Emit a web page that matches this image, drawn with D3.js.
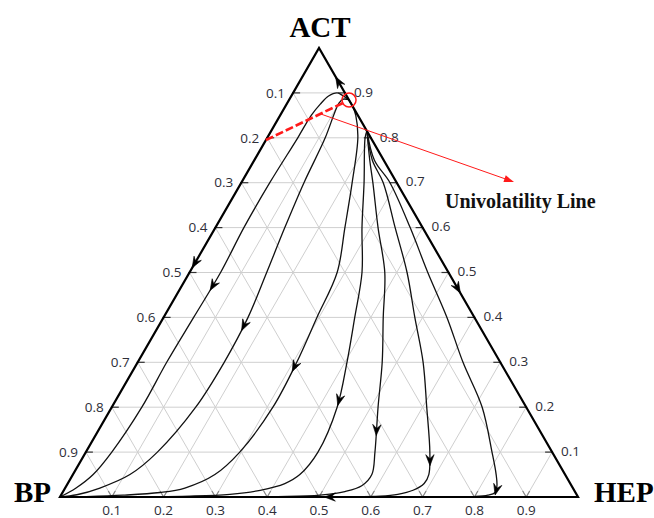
<!DOCTYPE html>
<html>
<head>
<meta charset="utf-8">
<script src="https://cdn.jsdelivr.net/npm/d3@7"></script>
<style>
  html, body { margin: 0; padding: 0; background: #fff; }
  svg { display: block; }
</style>
</head>
<body>
<svg id="chart" width="654" height="518"></svg>
<script>
// Ternary diagram of BP / HEP / ACT with residue curves.
// Compositions are written as [HEP fraction, ACT fraction]; BP = 1 - HEP - ACT.

const gridLevels = [0.1, 0.2, 0.3, 0.4, 0.5, 0.6, 0.7, 0.8, 0.9];
const tickLabels = ["0.1", "0.2", "0.3", "0.4", "0.5", "0.6", "0.7", "0.8", "0.9"];
const vertexNames = { left: "BP", right: "HEP", top: "ACT" };

// binary azeotrope on the ACT-HEP edge and the univolatility point
const azeotrope = [0.185, 0.815];
const univolatilityPoint = [0.116, 0.884];
const univolatilityStart = [0.0, 0.795];
const annotationText = "Univolatility Line";
const annotationFrom = [0.077, 0.853];
const annotationTo = [0.5257, 0.7016];

// residue curves
const curve1 = [[0.115,0.885],[0.097,0.895],[0.085,0.9],[0.072,0.893],[0.065,0.875],[0.06,0.85],[0.059,0.8],[0.055,0.7],[0.055,0.6],[0.06,0.5],[0.058,0.4],[0.056,0.3],[0.058,0.2],[0.05,0.1],[0.039,0.05],[0.021,0.02],[0,0]];
const curve2 = [[0.115,0.885],[0.104,0.886],[0.1,0.877],[0.102,0.857],[0.112,0.8],[0.121,0.7],[0.134,0.6],[0.149,0.5],[0.163,0.4],[0.167,0.3],[0.162,0.2],[0.138,0.1],[0.11,0.05],[0.067,0.02],[0.03,0.005],[0,0]];
const curve3 = [[0.115,0.885],[0.13,0.87],[0.146,0.85],[0.175,0.8],[0.214,0.7],[0.25,0.6],[0.285,0.5],[0.296,0.4],[0.307,0.3],[0.311,0.2],[0.297,0.1],[0.274,0.05],[0.231,0.02],[0.188,0.01],[0.12,0.004],[0.05,0.001],[0,0]];
const curve4 = [[0.185,0.815],[0.189,0.8],[0.237,0.7],[0.283,0.6],[0.333,0.5],[0.369,0.4],[0.404,0.3],[0.435,0.2],[0.448,0.1],[0.438,0.05],[0.419,0.03],[0.379,0.015],[0.325,0.006],[0.25,0.002],[0.15,0.0005],[0,0]];
const curve5 = [[0.185,0.815],[0.223,0.75],[0.254,0.7],[0.314,0.6],[0.377,0.5],[0.424,0.4],[0.472,0.3],[0.514,0.2],[0.558,0.1],[0.577,0.05],[0.57,0.025],[0.544,0.012],[0.5,0.004],[0.42,0.001],[0.3,0.0002],[0,0]];
const curve6 = [[0.185,0.815],[0.228,0.75],[0.274,0.7],[0.347,0.6],[0.42,0.5],[0.485,0.4],[0.551,0.3],[0.608,0.2],[0.664,0.1],[0.687,0.05],[0.688,0.03],[0.674,0.015],[0.649,0.006],[0.617,0.002],[0.55,0.0005],[0,0]];
const curve7 = [[0.185,0.815],[0.232,0.75],[0.287,0.7],[0.376,0.6],[0.46,0.5],[0.547,0.4],[0.628,0.3],[0.715,0.2],[0.784,0.1],[0.817,0.05],[0.831,0.025],[0.835,0.01],[0.824,0.004],[0.8,0.001],[0.7,0.0002],[0,0]];
const residueCurves = [curve1, curve2, curve3, curve4, curve5, curve6, curve7];

// where the direction arrow sits on each residue curve
const curveArrowAt = [[0.065,0.468],[0.168,0.38],[0.309,0.29],[0.429,0.216],[0.537,0.149],[0.673,0.082],[0.838,0.0156]];

// direction arrows on the triangle edges: position and the vertex they point to
const edgeArrows = [
  { at: [0.0, 0.521], toward: [0, 0] },   // ACT -> BP
  { at: [0.075, 0.925], toward: [0, 1] }, // azeotrope -> ACT
  { at: [0.535, 0.465], toward: [1, 0] }, // azeotrope -> HEP
  { at: [0.521, 0.0], toward: [0, 0] }    // HEP -> BP
];

const svg = d3.select("#chart");
const xs = d3.scaleLinear().domain([0, 1]).range([60, 578]);
const ys = d3.scaleLinear().domain([0, 1]).range([497, 48]);
const pt = ([h, a]) => [xs(h + a / 2), ys(a)];

// grid
const grid = svg.append("g").attr("stroke", "#cfcfcf").attr("stroke-width", 1).attr("fill", "none");
gridLevels.forEach(v => {
  const segs = [
    [[0, v], [1 - v, v]],         // constant ACT
    [[v, 0], [v, 1 - v]],         // constant HEP
    [[1 - v, 0], [0, 1 - v]]      // constant BP
  ];
  segs.forEach(s => {
    const p0 = pt(s[0]), p1 = pt(s[1]);
    grid.append("line").attr("x1", p0[0]).attr("y1", p0[1]).attr("x2", p1[0]).attr("y2", p1[1]);
  });
});

// ticks
const tk = svg.append("g").attr("stroke", "#333").attr("stroke-width", 1.2);
gridLevels.forEach(v => {
  const l = pt([0, 1 - v]);
  tk.append("line").attr("x1", l[0] - 1).attr("y1", l[1]).attr("x2", l[0] + 7).attr("y2", l[1]);
  const r = pt([1 - v, v]);
  tk.append("line").attr("x1", r[0] + 1).attr("y1", r[1]).attr("x2", r[0] - 7).attr("y2", r[1]);
  const b = pt([v, 0]);
  const c = Math.cos(Math.PI / 3) * 7, s = Math.sin(Math.PI / 3) * 7;
  tk.append("line").attr("stroke", "#888").attr("x1", b[0]).attr("y1", b[1]).attr("x2", b[0] - c).attr("y2", b[1] - s);
  tk.append("line").attr("stroke", "#888").attr("x1", b[0]).attr("y1", b[1]).attr("x2", b[0] + c).attr("y2", b[1] - s);
});

// tick labels
const lab = svg.append("g").attr("font-family", "'Open Sans', 'Liberation Sans', sans-serif")
  .attr("font-size", 13.5).attr("fill", "#2e2e38");
gridLevels.forEach((v, i) => {
  const l = pt([0, 1 - v]);
  lab.append("text").attr("x", l[0] - 8).attr("y", l[1]).attr("dy", "0.35em")
    .attr("text-anchor", "end").text(tickLabels[i]);
  const r = pt([1 - v, v]);
  lab.append("text").attr("x", r[0] + 9).attr("y", r[1] - 1).attr("dy", "0.35em")
    .attr("text-anchor", "start").text(tickLabels[i]);
  const b = pt([v, 0]);
  lab.append("text").attr("x", b[0]).attr("y", 515)
    .attr("text-anchor", "middle").text(tickLabels[i]);
});

// residue curves
const line = d3.line().x(d => pt(d)[0]).y(d => pt(d)[1]).curve(d3.curveCatmullRom.alpha(0.5));
const curveG = svg.append("g").attr("fill", "none").attr("stroke", "#111").attr("stroke-width", 1.3);
const paths = residueCurves.map(c => curveG.append("path").attr("d", line(c)).node());

// triangle
const tri = [pt([0, 0]), pt([1, 0]), pt([0, 1])];
svg.append("path").attr("d", "M" + tri.map(p => p.join(",")).join("L") + "Z")
  .attr("fill", "none").attr("stroke", "#000").attr("stroke-width", 2.2).attr("stroke-linejoin", "miter");

// arrowheads, centred on the given point
function arrowHead(x, y, angle) {
  svg.append("path")
    .attr("d", "M5.5,0 L-5.5,-4.2 L-1.5,0 L-5.5,4.2 Z")
    .attr("transform", `translate(${x},${y}) rotate(${angle * 180 / Math.PI})`)
    .attr("fill", "#000").attr("stroke", "#000").attr("stroke-width", 0.6).attr("stroke-linejoin", "miter");
}
paths.forEach((p, i) => {
  const target = pt(curveArrowAt[i]);
  const L = p.getTotalLength();
  let best = 0, bd = Infinity;
  for (let s = 0; s <= L; s += 0.5) {
    const q = p.getPointAtLength(s);
    const d = (q.x - target[0]) ** 2 + (q.y - target[1]) ** 2;
    if (d < bd) { bd = d; best = s; }
  }
  const a = p.getPointAtLength(Math.max(0, best - 2));
  const b = p.getPointAtLength(Math.min(L, best + 2));
  const q = p.getPointAtLength(best);
  arrowHead(q.x, q.y, Math.atan2(b.y - a.y, b.x - a.x));
});
edgeArrows.forEach(e => {
  const p = pt(e.at), t = pt(e.toward);
  arrowHead(p[0], p[1], Math.atan2(t[1] - p[1], t[0] - p[0]));
});

// univolatility line
const u0 = pt(univolatilityStart), u1 = pt(univolatilityPoint);
const rad = 7;
const ud = Math.hypot(u1[0] - u0[0], u1[1] - u0[1]);
svg.append("line")
  .attr("x1", u0[0]).attr("y1", u0[1])
  .attr("x2", u1[0] - (u1[0] - u0[0]) / ud * rad).attr("y2", u1[1] - (u1[1] - u0[1]) / ud * rad)
  .attr("stroke", "#ff1a1a").attr("stroke-width", 2.6).attr("stroke-dasharray", "8,3");
svg.append("circle").attr("cx", u1[0]).attr("cy", u1[1]).attr("r", rad)
  .attr("fill", "none").attr("stroke", "#ff1a1a").attr("stroke-width", 1.5);

// annotation arrow and label
const a0 = pt(annotationFrom), a1 = pt(annotationTo);
const ang = Math.atan2(a1[1] - a0[1], a1[0] - a0[0]);
svg.append("line").attr("x1", a0[0]).attr("y1", a0[1])
  .attr("x2", a1[0] - Math.cos(ang) * 8).attr("y2", a1[1] - Math.sin(ang) * 8)
  .attr("stroke", "#ff1a1a").attr("stroke-width", 1);
svg.append("path").attr("d", "M0,0 L-10,-3.5 L-10,3.5 Z")
  .attr("transform", `translate(${a1[0]},${a1[1]}) rotate(${ang * 180 / Math.PI})`)
  .attr("fill", "#ff1a1a");
svg.append("text").attr("x", 445).attr("y", 208)
  .attr("font-family", "'Liberation Serif', 'Times New Roman', serif")
  .attr("font-weight", "bold").attr("font-size", 20).attr("fill", "#111")
  .text(annotationText);

// vertex names
const vn = svg.append("g").attr("font-family", "'Liberation Serif', 'Times New Roman', serif")
  .attr("font-weight", "bold").attr("font-size", 29).attr("fill", "#000");
vn.append("text").attr("x", 320).attr("y", 37).attr("text-anchor", "middle").text(vertexNames.top);
vn.append("text").attr("x", 51).attr("y", 502).attr("text-anchor", "end").text(vertexNames.left);
vn.append("text").attr("x", 594).attr("y", 502).attr("text-anchor", "start").text(vertexNames.right);
</script>
</body>
</html>
